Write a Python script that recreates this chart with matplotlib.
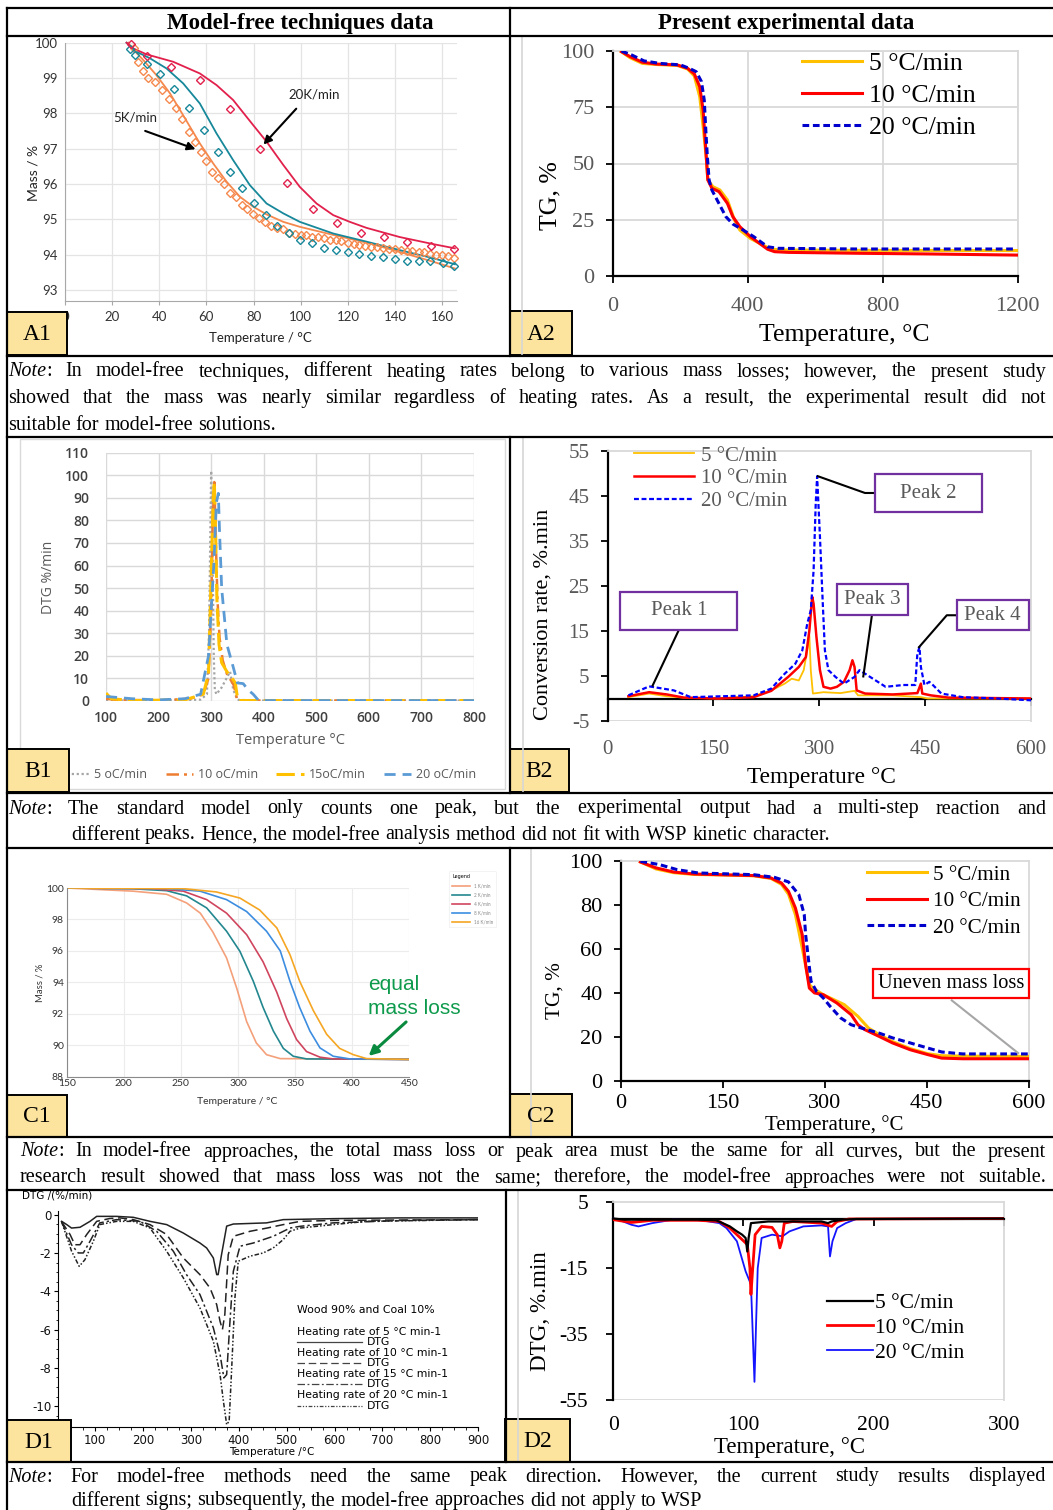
import matplotlib
matplotlib.use("Agg")
import matplotlib.pyplot as plt
from matplotlib.patches import Rectangle
from matplotlib.lines import Line2D
from matplotlib.ticker import MultipleLocator, AutoMinorLocator

plt.rcParams['axes.unicode_minus'] = False

W, H = 1053, 1510
SERIF = 'Liberation Serif'
SEGOE = 'Lato'
EXCEL = 'Open Sans'
ARIAL = 'DejaVu Sans'

# ================= DATA =================
# --- A1: model-free literature TG (Mass % vs Temperature °C)
a1_T_20k = [26.1, 28.9, 34.6, 45.9, 57.2, 64.3, 71.3, 79.8, 85.5, 92.6, 99.6, 106.7, 113.8, 120.8, 127.9, 142.0, 156.2, 165.4]
a1_m_20k = [100.0, 99.84, 99.67, 99.46, 99.13, 98.80, 98.38, 97.67, 97.20, 96.54, 95.92, 95.45, 95.12, 94.93, 94.76, 94.50, 94.30, 94.18]
a1_Tp_20k = [28.2, 34.9, 44.9, 57.3, 70.2, 82.7, 94.3, 105.0, 115.5, 125.4, 135.3, 145.2, 155.2, 165.0]
a1_mp_20k = [99.95, 99.63, 99.30, 98.94, 98.11, 97.00, 96.02, 95.28, 94.91, 94.61, 94.49, 94.37, 94.25, 94.17]

a1_T_mid = [26.1, 28.9, 36.0, 43.1, 50.1, 57.2, 64.3, 71.3, 78.4, 85.5, 92.6, 99.6, 113.8, 127.9, 142.0, 156.2, 165.4]
a1_m_mid = [100.0, 99.79, 99.56, 99.27, 98.85, 98.28, 97.43, 96.68, 95.97, 95.45, 95.17, 94.93, 94.60, 94.37, 94.13, 93.90, 93.73]
a1_Tp_mid = [27.5, 29.9, 34.6, 40.4, 46.4, 52.8, 58.9, 64.7, 69.9, 75.2, 80.1, 85.1, 90.0, 95.0, 99.9, 104.9, 109.8,
             114.9, 120.0, 124.8, 129.9, 135.0, 140.0, 145.0, 150.0, 155.0, 160.2, 165.0]
a1_mp_mid = [99.82, 99.65, 99.40, 99.11, 98.70, 98.16, 97.52, 96.90, 96.34, 95.90, 95.47, 95.13, 94.81, 94.62, 94.42, 94.32, 94.19,
             94.12, 94.07, 94.02, 93.95, 93.93, 93.88, 93.82, 93.82, 93.81, 93.77, 93.69]

a1_T_5k = [26.8, 28.9, 33.2, 38.8, 44.5, 50.1, 57.2, 62.9, 68.5, 74.2, 79.8, 85.5, 92.6, 99.6, 113.8, 127.9, 142.0, 156.2, 165.4]
a1_m_5k = [100.0, 99.81, 99.51, 99.08, 98.57, 97.95, 97.15, 96.58, 96.07, 95.64, 95.36, 95.14, 94.93, 94.79, 94.56, 94.34, 94.08, 93.80, 93.61]
a1_Tp_5k = [29.3, 30.9, 32.9, 35.4, 38.1, 41.1, 44.2, 47.0, 49.8, 52.4, 55.2, 57.5, 60.0, 62.4, 65.0, 67.5, 69.9, 72.5, 74.9, 77.3,
            79.8, 82.4, 84.9, 87.5, 90.0, 92.6, 95.1, 97.7, 100.0, 102.4, 104.9, 107.3, 109.8, 112.3, 114.8, 117.3, 119.9,
            122.4, 124.9, 127.4, 129.9, 132.4, 134.9, 137.4, 139.9, 142.4, 144.9, 147.4, 150.0, 152.5, 155.0, 157.5, 160.0,
            162.5, 165.0]
a1_mp_5k = [99.85, 99.44, 99.20, 99.00, 98.90, 98.66, 98.42, 98.14, 97.83, 97.48, 97.20, 96.90, 96.65, 96.34, 96.18, 96.00,
            95.76, 95.62, 95.42, 95.30, 95.14, 95.04, 94.92, 94.80, 94.77, 94.72, 94.62, 94.58, 94.56, 94.55, 94.51, 94.49,
            94.46, 94.43, 94.42, 94.38, 94.34, 94.31, 94.27, 94.25, 94.23, 94.21, 94.18, 94.17, 94.15, 94.13, 94.11, 94.10,
            94.09, 94.07, 94.02, 94.00, 93.98, 93.95, 93.92]

# --- A2 / C2: present TG (%) vs temperature
a2_T_5 = [25.8, 51.6, 87.7, 129, 191, 222, 242, 258, 268, 278, 282, 297, 318, 340, 361, 377, 408, 464, 490, 700, 1197]
a2_v_5 = [99.7, 97.0, 94.5, 94.0, 93.6, 92.0, 88.9, 79.7, 66.4, 51.6, 42.7, 39.7, 38.2, 33.8, 24.9, 20.4, 16.7, 12.3, 11.6, 11.4, 11.3]
a2_T_10 = [25.8, 51.6, 87.7, 129, 191, 222, 242, 258, 268, 276, 282, 294, 315, 340, 356, 377, 408, 459, 480, 521, 727, 934, 1197]
a2_v_10 = [99.7, 97.5, 95.0, 94.2, 93.8, 92.3, 89.8, 84.1, 73.8, 56.0, 42.7, 39.0, 37.5, 32.3, 26.4, 21.9, 17.5, 11.9, 10.8, 10.5, 10.1, 9.8, 9.3]
a2_T_20 = [25.8, 56.7, 92.9, 139.3, 201.2, 227, 247.6, 263.1, 271.4, 276.5, 280.6, 285.8, 294, 314.7, 335.3, 356, 386.9, 417.9, 459, 490, 727, 1197]
a2_v_20 = [100, 98.2, 95.6, 94.5, 93.8, 92.3, 90.8, 86.4, 78.2, 63.4, 53.0, 42.7, 38.2, 32.3, 26.4, 23.1, 20.4, 17.5, 13.0, 12.3, 12.0, 12.0]

c2_T_5 = [29, 52, 78, 108.5, 144, 195.6, 221, 236.5, 246.8, 257, 267, 277.5, 282.6, 298, 328.7, 349, 364.5, 380, 400, 426, 451.6, 472, 503, 600]
c2_v_5 = [99.7, 96.5, 94.8, 94.0, 93.8, 93.4, 92.2, 89.5, 85.0, 75.7, 60.5, 43.8, 42.2, 39.2, 34.7, 29.3, 24.0, 21.0, 17.8, 14.6, 12.3, 11.4, 11.2, 11.1]
c2_T_10 = [29, 52, 78, 108.5, 144, 195.6, 221, 236.5, 246.8, 257, 267, 272, 277.5, 285, 298, 318, 339, 349, 359, 380, 400, 426, 451.6, 472, 503, 600]
c2_v_10 = [99.7, 97.0, 95.1, 94.2, 93.9, 93.5, 92.4, 90.1, 86.3, 78.7, 66.6, 52.9, 42.2, 40.0, 39.2, 35.4, 30.1, 25.5, 23.3, 20.2, 17.2, 14.1, 11.9, 10.3, 10.0, 10.0]
c2_T_20 = [29, 57, 83, 113.7, 195.6, 226, 246.8, 262, 270, 272, 276.5, 280, 288, 298, 308, 323.6, 339, 354, 380, 400, 426, 451.6, 472, 503, 600]
c2_v_20 = [100, 98.5, 96.2, 94.7, 93.9, 92.7, 90.6, 84.8, 75.7, 66.6, 54.4, 45.3, 40.7, 37.7, 33.9, 28.6, 25.5, 24.0, 21.7, 19.5, 17.2, 14.9, 13.1, 12.2, 12.2]

# --- B1: standard model DTG (%/min)
b1_T_5 = [100, 150, 200, 250, 280, 292, 296, 300, 303, 305, 307, 310, 320, 336, 342, 350, 400, 800]
b1_v_5 = [0.3, 0.2, 0.3, 0.4, 0.6, 3, 30, 102, 60, 20, 5, 3, 6, 13, 5, 0.5, 0.2, 0.2]
b1_T_10 = [100, 120, 200, 260, 285, 295, 300, 303, 306, 309, 312, 316, 322, 330, 338, 343, 347, 350, 400, 800]
b1_v_10 = [1.0, 0.5, 0.3, 1.0, 3, 10, 40, 80, 97, 70, 45, 28, 18, 12, 9, 7, 3, 0.3, 0.2, 0.2]
b1_T_15 = [100, 110, 150, 250, 285, 295, 300, 304, 306, 308, 311, 315, 320, 330, 340, 346, 349, 352, 400, 800]
b1_v_15 = [3.5, 1.0, 0.2, 0.5, 3, 12, 55, 90, 97, 80, 45, 25, 17, 13, 10, 8, 3, 0.2, 0.2, 0.2]
b1_T_20 = [100, 150, 200, 250, 280, 295, 305, 310, 313.7, 316, 320, 330, 342, 350, 361, 370, 380, 390, 400, 800]
b1_v_20 = [2.0, 1.0, 0.5, 1.0, 3, 20, 60, 88, 92, 75, 50, 25, 15, 8, 7.7, 5, 3, 0.3, 0.2, 0.2]

# --- B2: present conversion rate (%.min)
b2_T_5 = [29.6, 59, 84, 108, 158, 207, 232, 251, 261, 271, 278, 283, 286, 288, 291, 306, 330, 350, 355, 404, 444, 454, 600]
b2_v_5 = [0.3, 1.1, 0.5, 0.2, 0.0, 0.5, 1.8, 3.3, 4.4, 4.0, 6.3, 10.7, 14.0, 6.3, 1.1, 1.4, 1.2, 1.7, 0.7, 0.7, 0.3, 0.0, 0.0]
b2_T_10 = [29.6, 59, 84, 108, 158, 207, 232, 256, 271, 281, 286, 290, 292, 296, 301, 306, 316, 325, 335, 343, 347, 350, 353, 365, 404, 439, 444, 446, 458, 483, 600]
b2_v_10 = [0.5, 1.4, 0.9, 0.2, 0.0, 0.3, 1.7, 4.8, 7.0, 9.2, 15.1, 22.6, 21.0, 13.7, 6.3, 2.6, 2.2, 2.6, 3.7, 6.3, 8.5, 7.0, 1.8, 1.1, 0.9, 1.2, 3.3, 1.1, 0.7, 0.2, 0.0]
b2_T_20 = [29.6, 59, 94, 118, 207, 232, 251, 266, 276, 283, 288, 292, 295, 297, 301, 305, 308, 313, 323, 335, 350, 357, 365, 380, 394, 419, 436, 439, 442, 444, 449, 456, 461, 473, 503, 552, 600]
b2_v_20 = [0.7, 2.7, 1.8, 0.3, 0.7, 2.2, 5.5, 7.7, 10.7, 16.6, 19.6, 28.5, 43.3, 49.4, 35.9, 21.1, 10.7, 6.3, 4.8, 3.3, 4.8, 6.3, 5.5, 4.0, 2.6, 3.0, 3.0, 10.0, 11.4, 7.0, 3.0, 3.7, 3.0, 1.1, 0.3, 0.0, -0.4]
b2_peak_labels = ['Peak 1', 'Peak 2', 'Peak 3', 'Peak 4']
b2_peak_box = [(18.4, 183.6, 15.2, 23.7), (379, 531, 41.4, 49.9), (325, 426.4, 18.6, 25.4), (494.6, 596.6, 15.2, 21.9)]
b2_peak_leader = [[(101, 15.2), (64, 2.9)],
                  [(379, 45.67), (364.8, 45.67), (298, 49.4)],
                  [(374.7, 18.6), (362.4, 4.9)],
                  [(494.6, 18.5), (480.7, 18.5), (441.3, 11.4)]]

# --- C1: model-free simulation TG
c1_T_1 = [150, 208, 237.5, 255, 267, 278, 290, 299, 307.6, 316, 325, 337, 450]
c1_m_1 = [100, 99.8, 99.6, 99.05, 98.4, 97.2, 95.55, 93.6, 91.5, 90.15, 89.4, 89.15, 89.1]
c1_T_2 = [150, 208, 237.5, 255, 272.6, 290, 301.7, 313.4, 322, 331, 339.7, 348.4, 360, 450]
c1_m_2 = [100, 99.95, 99.83, 99.5, 98.73, 97.25, 95.97, 94.07, 92.4, 90.9, 89.8, 89.3, 89.13, 89.1]
c1_T_4 = [150, 223, 252, 272.6, 290, 307.6, 322, 333.8, 342.6, 351.3, 360, 371.8, 383.4, 450]
c1_m_4 = [100, 99.96, 99.8, 99.26, 98.4, 97.03, 95.3, 93.4, 91.7, 90.36, 89.6, 89.24, 89.13, 89.1]
c1_T_8 = [150, 237.5, 266.7, 290, 307.6, 325, 337, 345.5, 354, 363, 371.8, 383.4, 398, 450]
c1_m_8 = [100, 99.96, 99.8, 99.26, 98.5, 97.25, 96.0, 94.07, 92.4, 90.9, 89.83, 89.3, 89.13, 89.1]
c1_T_16 = [150, 252, 281, 301.7, 319, 334, 345.5, 354, 366, 377.6, 389, 401, 412.6, 450]
c1_m_16 = [100, 99.96, 99.75, 99.36, 98.6, 97.46, 95.76, 94.07, 92.2, 90.7, 89.8, 89.4, 89.15, 89.1]

# --- D1: literature DTG (%/min)
d1_T_5 = [30.4, 41, 51, 68.7, 89.6, 103.5, 145, 180, 214.8, 249.6, 284.3, 319, 333, 347, 354, 357, 364, 374.8, 388.7, 458, 493, 597, 736.5, 900]
d1_v_5 = [-0.35, -0.52, -0.7, -0.66, -0.35, -0.09, -0.09, -0.14, -0.35, -0.52, -0.96, -1.48, -1.74, -2.26, -3.13, -3.13, -2.1, -0.6, -0.49, -0.43, -0.26, -0.21, -0.17, -0.17]
d1_T_10 = [30, 48, 58, 68.7, 82.6, 103.5, 131, 152, 180, 214.8, 249.6, 284.3, 319, 340, 354, 361, 366, 371, 378, 388.7, 423.5, 459, 493, 528, 597, 900]
d1_v_10 = [-0.35, -1.04, -1.57, -1.57, -1.04, -0.35, -0.2, -0.17, -0.26, -0.52, -1.04, -2.26, -3.13, -3.83, -4.7, -5.57, -6.0, -5.2, -2.1, -1.13, -0.87, -0.7, -0.52, -0.35, -0.3, -0.26]
d1_T_15 = [30, 51, 65, 75.6, 89.6, 110, 145, 194, 228.7, 263.5, 291, 319, 347, 361, 369, 374.8, 381.7, 388.7, 402.6, 430.4, 472, 507, 528, 597, 736.5, 900]
d1_v_15 = [-0.35, -1.57, -2.0, -2.0, -1.39, -0.43, -0.26, -0.35, -0.87, -1.91, -3.13, -4.17, -5.91, -7.3, -8.52, -8.35, -5.57, -2.96, -1.65, -1.48, -1.13, -0.7, -0.61, -0.43, -0.31, -0.26]
d1_T_20 = [30, 51, 67, 79, 96.5, 110, 145, 180, 214.8, 249.6, 284.3, 319, 347, 361, 368, 374.8, 380, 385, 392, 399, 423.5, 451, 472, 493, 507, 528, 597, 667, 900]
d1_v_20 = [-0.35, -1.9, -2.7, -2.35, -1.39, -0.52, -0.35, -0.35, -0.7, -1.91, -3.3, -4.87, -6.6, -8.35, -9.74, -10.96, -10.78, -8.17, -4.35, -2.43, -2.17, -2.0, -1.74, -1.3, -0.87, -0.7, -0.52, -0.35, -0.26]
d1_rates = ['5', '10', '15', '20']

# --- D2: present DTG (%.min)
d2_T_5 = [0, 8.6, 25, 65, 79, 84, 89.6, 95, 99, 101.7, 103, 104, 105.8, 119, 132.7, 141, 160, 165, 167.8, 176, 186.7, 300]
d2_v_5 = [0, -0.35, -0.35, -0.35, -0.55, -1.4, -2.4, -3.9, -4.9, -5.9, -10, -5.9, -1.4, -0.9, -0.9, -0.9, -0.9, -1.4, -0.9, -0.35, -0.15, 0]
d2_T_10 = [0, 14, 30, 65, 81.5, 89.6, 97.7, 103, 105, 105.8, 107, 109, 114, 122, 126, 128, 129.5, 131.4, 138, 160, 167.8, 172, 181, 300]
d2_v_10 = [-0.35, -1.2, -0.55, -0.55, -0.9, -2.9, -5.9, -7.9, -15, -23, -16, -4.9, -2.4, -2.7, -4.9, -8.9, -6.9, -1.4, -0.9, -1.4, -2.4, -0.9, -0.15, 0]
d2_T_20 = [0, 6, 14, 19.4, 30, 46, 68, 81.5, 87, 95, 101.7, 105.8, 107, 108.5, 109.8, 111, 114, 122, 130, 135.4, 146, 160, 165, 166.5, 168.4, 172, 178.6, 186.7, 300]
d2_v_20 = [0, -0.65, -1.9, -2.4, -1.4, -0.35, -0.55, -1.4, -2.9, -6.9, -16, -20, -33, -49.5, -31, -15, -5.9, -4.9, -5.4, -3.9, -2.4, -2.1, -2.4, -11.5, -6.9, -2.9, -1.4, -0.15, 0]

# --- texts
headers = ['Model-free techniques data', 'Present experimental data']
panel_ids = ['A1', 'A2', 'B1', 'B2', 'C1', 'C2', 'D1', 'D2']
note_A = ["Note: In model-free techniques, different heating rates belong to various mass losses; however, the present study",
          "showed that the mass was nearly similar regardless of heating rates. As a result, the experimental result did not",
          "suitable for model-free solutions."]
note_B = ["Note: The standard model only counts one peak, but the experimental output had a multi-step reaction and",
          "different peaks. Hence, the model-free analysis method did not fit with WSP kinetic character."]
note_C = ["Note: In model-free approaches, the total mass loss or peak area must be the same for all curves, but the present",
          "research result showed that mass loss was not the same; therefore, the model-free approaches were not suitable."]
note_D = ["Note: For model-free methods need the same peak direction. However, the current study results displayed",
          "different signs; subsequently, the model-free approaches did not apply to WSP"]

# ================= FIGURE =================
fig = plt.figure(figsize=(W / 100, H / 100), dpi=100)
fig.patch.set_facecolor('white')


def px_axes(x0, y0, x1, y1):
    return fig.add_axes([x0 / W, 1 - y1 / H, (x1 - x0) / W, (y1 - y0) / H])


def legend_at(ax, x, y, **kw):
    return ax.legend(loc='upper left', bbox_to_anchor=(x / W, 1 - y / H), bbox_transform=fig.transFigure,
                     frameon=False, borderpad=0, borderaxespad=0, **kw)


# ---------- A1 ----------
ax = px_axes(65, 42.7, 457, 301)
ax.set_xlim(0, 166.3)
ax.set_ylim(92.69, 100)
C_RED, C_TEAL, C_OR = '#E2204C', '#17889A', '#F5884C'
for T, m, Tp, mp, c in [(a1_T_5k, a1_m_5k, a1_Tp_5k, a1_mp_5k, C_OR),
                        (a1_T_mid, a1_m_mid, a1_Tp_mid, a1_mp_mid, C_TEAL),
                        (a1_T_20k, a1_m_20k, a1_Tp_20k, a1_mp_20k, C_RED)]:
    ax.plot(T, m, color=c, lw=1.3, clip_on=False, zorder=3)
    ax.plot(Tp, mp, ls='none', marker='D', ms=3.8, mfc='none', mec=c, mew=1.0, clip_on=False, zorder=4)
ax.set_xticks(range(0, 161, 20))
ax.set_yticks(range(93, 101))
ax.grid(color='#e4e4e4', lw=0.9)
for s in ['top', 'right']:
    ax.spines[s].set_visible(False)
for s in ['left', 'bottom']:
    ax.spines[s].set_color('#a8a8a8')
ax.tick_params(axis='x', length=3, color='#a8a8a8', pad=4, labelsize=9.5, labelcolor='#333333', labelfontfamily=SEGOE)
ax.tick_params(axis='y', length=0, pad=5, labelsize=9.5, labelcolor='#333333', labelfontfamily=SEGOE)
ax.annotate('', xy=(56.5, 96.96), xytext=(32.9, 97.53),
            arrowprops=dict(arrowstyle='-|>', color='black', lw=1.5, mutation_scale=12), annotation_clip=False)
ax.annotate('', xy=(83.4, 97.06), xytext=(98.9, 98.19),
            arrowprops=dict(arrowstyle='-|>', color='black', lw=1.5, mutation_scale=12), annotation_clip=False)
ax.text(20.4, 97.89, '5K/min', fontsize=9.5, family=SEGOE, va='center', color='#222222')
ax.text(94.7, 98.52, '20K/min', fontsize=9.5, family=SEGOE, va='center', color='#222222')

# ---------- A2 ----------
ax = px_axes(612.7, 51, 1017.5, 276)
ax.set_xlim(0, 1200)
ax.set_ylim(0, 100)
ax.plot(a2_T_5, a2_v_5, color='#FFC000', lw=2.2, label='5 °C/min', zorder=3)
ax.plot(a2_T_10, a2_v_10, color='#FF0000', lw=2.2, label='10 °C/min', zorder=4)
ax.plot(a2_T_20, a2_v_20, color='#0000CC', lw=2.2, ls=(0, (2.2, 1.2)), label='20 °C/min', zorder=5)
ax.set_xticks([0, 400, 800, 1200])
ax.set_yticks([0, 25, 50, 75, 100])
ax.grid(color='#d9d9d9', lw=1.3)
for s in ['top', 'right']:
    ax.spines[s].set_color('#d9d9d9')
    ax.spines[s].set_linewidth(1.3)
for s in ['left', 'bottom']:
    ax.spines[s].set_color('black')
    ax.spines[s].set_linewidth(1.6)
ax.tick_params(length=5, width=1.3, color='black', labelsize=16, labelcolor='#595959', labelfontfamily=SERIF)
ax.tick_params(axis='y', pad=8)
ax.tick_params(axis='x', pad=10)
legend_at(ax, 801.7, 52, prop={'family': SERIF, 'size': 18.5}, handlelength=2.35, handletextpad=0.25, labelspacing=0.36)

# ---------- B1 ----------
ax = px_axes(106, 452.7, 474, 701)
ax.set_xlim(100, 800)
ax.set_ylim(0, 110)
ax.plot(b1_T_5, b1_v_5, color='#A5A5A5', lw=1.6, ls=(0, (1, 1.2)), label='5 oC/min')
ax.plot(b1_T_10, b1_v_10, color='#ED7D31', lw=1.8, ls=(0, (5, 2, 1.2, 2)), label='10 oC/min')
ax.plot(b1_T_15, b1_v_15, color='#FFC000', lw=2.2, ls=(0, (6, 2)), label='15oC/min')
ax.plot(b1_T_20, b1_v_20, color='#5B9BD5', lw=2.0, ls=(0, (4, 2.5)), label='20 oC/min')
ax.set_xticks(range(100, 801, 100))
ax.set_yticks(range(0, 111, 10))
ax.grid(color='#d9d9d9', lw=1.0)
for s in ax.spines.values():
    s.set_visible(False)
ax.tick_params(length=0, labelsize=10, labelcolor='#404040', labelfontfamily=EXCEL)
ax.tick_params(axis='y', pad=12)
ax.tick_params(axis='x', pad=7)
for lbl in ax.get_xticklabels() + ax.get_yticklabels():
    lbl.set_fontweight('semibold')
ax.legend(loc='center left', bbox_to_anchor=(62 / W, 1 - 775 / H), bbox_transform=fig.transFigure, ncol=4,
          frameon=False, borderpad=0, borderaxespad=0, prop={'family': EXCEL, 'size': 9},
          handlelength=2.2, handletextpad=0.4, columnspacing=1.45, labelcolor='#595959')

# ---------- B2 ----------
ax = px_axes(607.5, 451, 1031, 721)
ax.set_xlim(0, 600)
ax.set_ylim(-5, 55)
ax.plot(b2_T_5, b2_v_5, color='#FFC000', lw=1.3, label='5 °C/min', zorder=3)
ax.plot(b2_T_10, b2_v_10, color='#FF0000', lw=1.8, label='10 °C/min', zorder=4)
ax.plot(b2_T_20, b2_v_20, color='#0000FF', lw=1.6, ls=(0, (2.2, 1.2)), label='20 °C/min', zorder=5)
ax.set_xticks([0, 150, 300, 450, 600])
ax.set_yticks(range(-5, 56, 10))
ax.spines['bottom'].set_position(('data', 0))
for s in ['top', 'right']:
    ax.spines[s].set_color('#d9d9d9')
    ax.spines[s].set_linewidth(1.3)
for s in ['left', 'bottom']:
    ax.spines[s].set_color('black')
    ax.spines[s].set_linewidth(1.6)
ax.axhline(-5, color='#d9d9d9', lw=1.3, zorder=0)
ax.tick_params(length=5, width=1.3, color='black', labelsize=15, labelcolor='#595959', labelfontfamily=SERIF)
ax.tick_params(axis='y', pad=8)
ax.tick_params(axis='x', pad=25)
legend_at(ax, 633.6, 446, prop={'family': SERIF, 'size': 15}, handlelength=2.9, handletextpad=0.33,
          labelspacing=0.15, labelcolor='#595959')
for lab, (x0, x1, y0, y1), leader in zip(b2_peak_labels, b2_peak_box, b2_peak_leader):
    xs, ys = zip(*leader)
    ax.plot(xs, ys, color='black', lw=1.5, clip_on=False, zorder=6)
    ax.add_patch(Rectangle((x0, y0), x1 - x0, y1 - y0, facecolor='white', edgecolor='#7030A0', lw=1.6,
                           clip_on=False, zorder=7))
    ax.text((x0 + x1) / 2, (y0 + y1) / 2, lab, ha='center', va='center', fontsize=15, family=SERIF,
            color='#595959', zorder=8)

# ---------- C1 ----------
ax = px_axes(66.7, 888, 409.3, 1076.7)
ax.set_xlim(150, 450)
ax.set_ylim(88, 100)
ax.plot(c1_T_1, c1_m_1, color='#F4A07A', lw=1.2, label='1 K/min')
ax.plot(c1_T_2, c1_m_2, color='#23878F', lw=1.2, label='2 K/min')
ax.plot(c1_T_4, c1_m_4, color='#D0455E', lw=1.2, label='4 K/min')
ax.plot(c1_T_8, c1_m_8, color='#3C8DE0', lw=1.2, label='8 K/min')
ax.plot(c1_T_16, c1_m_16, color='#F5A623', lw=1.2, label='16 K/min')
ax.set_xticks(range(150, 451, 50))
ax.set_yticks(range(88, 101, 2))
ax.grid(color='#ececec', lw=0.8)
for s in ['top', 'right']:
    ax.spines[s].set_visible(False)
for s in ['left', 'bottom']:
    ax.spines[s].set_color('#8a8a8a')
ax.tick_params(length=0, labelsize=7.5, labelcolor='#333333', labelfontfamily=SEGOE, pad=2)
lg = ax.legend(loc='upper left', bbox_to_anchor=(447 / W, 1 - 869 / H), bbox_transform=fig.transFigure,
               title='Legend', prop={'family': SEGOE, 'size': 3.3}, title_fontsize=3.5, frameon=True,
               handlelength=4, labelspacing=0.9, borderpad=0.6, labelcolor='#888888')
lg.get_frame().set_edgecolor('#eeeeee')
lg.get_frame().set_linewidth(0.6)
lg._legend_box.align = 'left'
ax.annotate('', xy=(412.6, 89.2), xytext=(449, 91.6),
            arrowprops=dict(arrowstyle='-|>', color='#0A8A3E', lw=2.2, mutation_scale=14), annotation_clip=False)

# ---------- C2 ----------
ax = px_axes(620.7, 861.3, 1028.6, 1080.7)
ax.set_xlim(0, 600)
ax.set_ylim(0, 100)
ax.plot(c2_T_5, c2_v_5, color='#FFC000', lw=2.2, label='5 °C/min', zorder=3)
ax.plot(c2_T_10, c2_v_10, color='#FF0000', lw=2.2, label='10 °C/min', zorder=4)
ax.plot(c2_T_20, c2_v_20, color='#0000CC', lw=2.2, ls=(0, (2.2, 1.2)), label='20 °C/min', zorder=5)
ax.set_xticks([0, 150, 300, 450, 600])
ax.set_yticks(range(0, 101, 20))
for s in ['top', 'right']:
    ax.spines[s].set_color('#d9d9d9')
    ax.spines[s].set_linewidth(1.3)
for s in ['left', 'bottom']:
    ax.spines[s].set_color('black')
    ax.spines[s].set_linewidth(1.6)
ax.tick_params(length=5, width=1.3, color='black', labelsize=16, labelcolor='black', labelfontfamily=SERIF)
ax.tick_params(axis='y', pad=8)
ax.tick_params(axis='x', pad=4.5)
legend_at(ax, 866.8, 865, prop={'family': SERIF, 'size': 15.2}, handlelength=2.85, handletextpad=0.3,
          labelspacing=0.32)
ax.plot([487, 584.6], [36.6, 12.6], color='#A6A6A6', lw=1.5, zorder=6)
ax.text((363.5 + 607.7) / 2, (36.8 + 51.8) / 2, 'Uneven mass loss', ha='center', va='center', fontsize=14.7,
        family=SERIF, color='black', zorder=8,
        bbox=dict(boxstyle='square,pad=0.25', facecolor='white', edgecolor='#FF0000', lw=1.6))

# ---------- D1 ----------
ax = px_axes(58.3, 1211, 478.3, 1427.3)
ax.set_xlim(23.4, 900)
ax.set_ylim(-11.1, 0.19)
D1_STY = ['-', (0, (6, 3)), (0, (6, 2, 1.5, 2)), (0, (3, 1.3, 1, 1.3, 1, 1.3))]
for T, v, st in zip([d1_T_5, d1_T_10, d1_T_15, d1_T_20], [d1_v_5, d1_v_10, d1_v_15, d1_v_20], D1_STY):
    ax.plot(T, v, color='#222222', lw=1.1, ls=st)
ax.set_xticks(range(100, 901, 100))
ax.set_yticks(range(-10, 1, 2))
ax.xaxis.set_minor_locator(AutoMinorLocator(4))
ax.yaxis.set_minor_locator(AutoMinorLocator(4))
for s in ['top', 'right']:
    ax.spines[s].set_visible(False)
ax.tick_params(which='major', length=3, width=0.8, labelsize=8.5, labelcolor='#111111', labelfontfamily=ARIAL, pad=2)
ax.tick_params(which='minor', length=1.8, width=0.6)
key_x0, key_x1, key_txt = 521, 656.5, 667
ax.text(key_x0, -4.96, 'Wood 90% and Coal 10%', fontsize=7.8, family=ARIAL, va='center')
for r, yh, yl, st in zip(d1_rates, [-6.12, -7.2, -8.3, -9.43], [-6.64, -7.74, -8.83, -10.0], D1_STY):
    ax.text(key_x0, yh, 'Heating rate of %s °C min-1' % r, fontsize=7.8, family=ARIAL, va='center')
    ax.add_line(Line2D([key_x0, key_x1], [yl, yl], color='#444444', lw=0.9, ls=st))
    ax.text(key_txt, yl, 'DTG', fontsize=7.8, family=ARIAL, va='center')

# ---------- D2 ----------
ax = px_axes(613.2, 1202, 1003.8, 1400)
ax.set_xlim(0, 300)
ax.set_ylim(-55, 5)
ax.plot(d2_T_5, d2_v_5, color='black', lw=1.6, label='5 °C/min', zorder=5)
ax.plot(d2_T_10, d2_v_10, color='#FF0000', lw=2.0, label='10 °C/min', zorder=4)
ax.plot(d2_T_20, d2_v_20, color='#1414FF', lw=1.3, label='20 °C/min', zorder=3)
ax.set_xticks([0, 100, 200, 300])
ax.set_yticks([5, -15, -35, -55])
ax.spines['bottom'].set_position(('data', 0))
for s in ['top', 'right']:
    ax.spines[s].set_color('#d9d9d9')
    ax.spines[s].set_linewidth(1.3)
for s in ['left', 'bottom']:
    ax.spines[s].set_color('black')
    ax.spines[s].set_linewidth(1.6)
ax.axhline(-55, color='#d9d9d9', lw=1.3, zorder=0)
ax.tick_params(length=5, width=1.3, color='black', labelsize=15.5, labelcolor='black', labelfontfamily=SERIF)
ax.tick_params(axis='y', pad=13)
ax.tick_params(axis='x', pad=137)
legend_at(ax, 827.4, 1293, prop={'family': SERIF, 'size': 15.5}, handlelength=2.1, handletextpad=0.1,
          labelspacing=0.22)

# ================= OVERLAY (table, labels, notes) =================
ov = fig.add_axes([0, 0, 1, 1], zorder=20)
ov.set_xlim(0, W)
ov.set_ylim(H, 0)
ov.axis('off')
ov.patch.set_alpha(0)

# faint chart-area borders
for x, y0, y1 in [(522, 36, 356), (523, 437, 793), (531, 848, 1137), (518, 1190, 1462)]:
    ov.plot([x, x], [y0, y1], color='#d6d6d6', lw=1.2)
ov.add_patch(Rectangle((20, 439), 485, 350, facecolor='none', edgecolor='#d9d9d9', lw=1.0))

# table rules
LW = 1.6
for y in [8, 36, 356, 437, 793, 848, 1137, 1190, 1462]:
    ov.plot([7, W], [y, y], color='black', lw=LW)
ov.plot([7, 7], [8, H], color='black', lw=LW)
for x, y0, y1 in [(510, 8, 356), (510, 437, 793), (510, 848, 1137), (506, 1190, 1462)]:
    ov.plot([x, x], [y0, y1], color='black', lw=LW)

# headers
ov.text(300, 23, headers[0], ha='center', va='center', fontsize=16.5, fontweight='bold', family=SERIF)
ov.text(785.7, 23, headers[1], ha='center', va='center', fontsize=16.5, fontweight='bold', family=SERIF)

# axis titles
ov.text(33, 173, 'Mass / %', rotation=90, ha='center', va='center', fontsize=10, family=SEGOE, color='#222222')
ov.text(260, 338, 'Temperature / °C', ha='center', va='center', fontsize=9.5, family=SEGOE, color='#222222')
ov.text(550, 196, 'TG, %', rotation=90, ha='center', va='center', fontsize=18.5, family=SERIF)
ov.text(844, 335, 'Temperature, °C', ha='center', va='center', fontsize=18.5, family=SERIF)
ov.text(48, 577, 'DTG %/min', rotation=90, ha='center', va='center', fontsize=10, family=EXCEL, color='#595959')
ov.text(290, 741, 'Temperature °C', ha='center', va='center', fontsize=10.5, family=EXCEL, color='#595959')
ov.text(543, 614, 'Conversion rate, %.min', rotation=90, ha='center', va='center', fontsize=16, family=SERIF)
ov.text(821.5, 777, 'Temperature °C', ha='center', va='center', fontsize=16.8, family=SERIF)
ov.text(40, 983, 'Mass / %', rotation=90, ha='center', va='center', fontsize=6.8, family=SEGOE, color='#333333')
ov.text(237, 1101, 'Temperature / °C', ha='center', va='center', fontsize=7.5, family=SEGOE, color='#333333')
ov.text(368, 985, 'equal', ha='left', va='center', fontsize=15, family='Liberation Sans', color='#0E9A4C')
ov.text(368, 1008, 'mass loss', ha='left', va='center', fontsize=15, family='Liberation Sans', color='#0E9A4C')
ov.text(555, 991, 'TG, %', rotation=90, ha='center', va='center', fontsize=15.3, family=SERIF)
ov.text(833.7, 1125, 'Temperature, °C', ha='center', va='center', fontsize=15, family=SERIF)
ov.text(22, 1196, 'DTG /(%/min)', ha='left', va='center', fontsize=7.5, family=ARIAL)
ov.text(272, 1452, 'Temperature /°C', ha='center', va='center', fontsize=7.5, family=ARIAL)
ov.text(540, 1311, 'DTG, %.min', rotation=90, ha='center', va='center', fontsize=16.6, family=SERIF)
ov.text(789.5, 1448, 'Temperature, °C', ha='center', va='center', fontsize=16.5, family=SERIF)

# panel id boxes
id_boxes = [(7, 312, 67, 355), (510, 311, 572, 355), (7, 749, 69, 792), (510, 749, 569, 792),
            (7, 1095, 67, 1137), (510, 1094, 572, 1137), (7, 1420, 71, 1462), (505, 1419, 570, 1462)]
for pid, (x0, y0, x1, y1) in zip(panel_ids, id_boxes):
    ov.add_patch(Rectangle((x0, y0), x1 - x0, y1 - y0, facecolor='#FCE49E', edgecolor='black', lw=1.4))
    ov.text((x0 + x1) / 2, (y0 + y1) / 2 + 1, pid, ha='center', va='center', fontsize=17, family=SERIF)

# notes (justified text)
R = fig.canvas.get_renderer()


def measure(s, fs, style='normal'):
    t = ov.text(0, 0, s, fontsize=fs, fontstyle=style, family=SERIF)
    w = t.get_window_extent(R).width
    t.remove()
    return w


def words_of(line):
    out = []
    for i, w in enumerate(line.split(' ')):
        if i == 0 and w.startswith('Note'):
            out.append([('Note', 'italic'), (w[4:], 'normal')])
        else:
            out.append([(w, 'normal')])
    return out


note_lines = [  # (text, x0, x1, y, justify)
    (note_A[0], 8, 1046, 372, True), (note_A[1], 8, 1046, 398.5, True), (note_A[2], 8, 1046, 425, False),
    (note_B[0], 8, 1046, 809, True), (note_B[1], 71, 1046, 835, False),
    (note_C[0], 20, 1046, 1152, True), (note_C[1], 20, 1046, 1178, True),
    (note_D[0], 8, 1046, 1477, True), (note_D[1], 71, 1046, 1501, False),
]
FS0 = 14.5
gap0 = measure('a a', FS0) - measure('aa', FS0)
scale = 1.0
for txt, x0, x1, y, just in note_lines:
    ws = words_of(txt)
    tot = sum(measure(s, FS0, st) for w in ws for s, st in w) + gap0 * 0.8 * (len(ws) - 1)
    scale = min(scale, (x1 - x0) / tot)
FS = FS0 * scale
gapn = gap0 * scale
for txt, x0, x1, y, just in note_lines:
    ws = words_of(txt)
    wl = [[(s, st, measure(s, FS, st)) for s, st in w] for w in ws]
    tot = sum(m for w in wl for _, _, m in w)
    gap = (x1 - x0 - tot) / (len(wl) - 1) if just else gapn
    x = x0
    for w in wl:
        for s, st, m in w:
            ov.text(x, y, s, fontsize=FS, fontstyle=st, family=SERIF, ha='left', va='center')
            x += m
        x += gap

fig.savefig('out.png', dpi=100)
